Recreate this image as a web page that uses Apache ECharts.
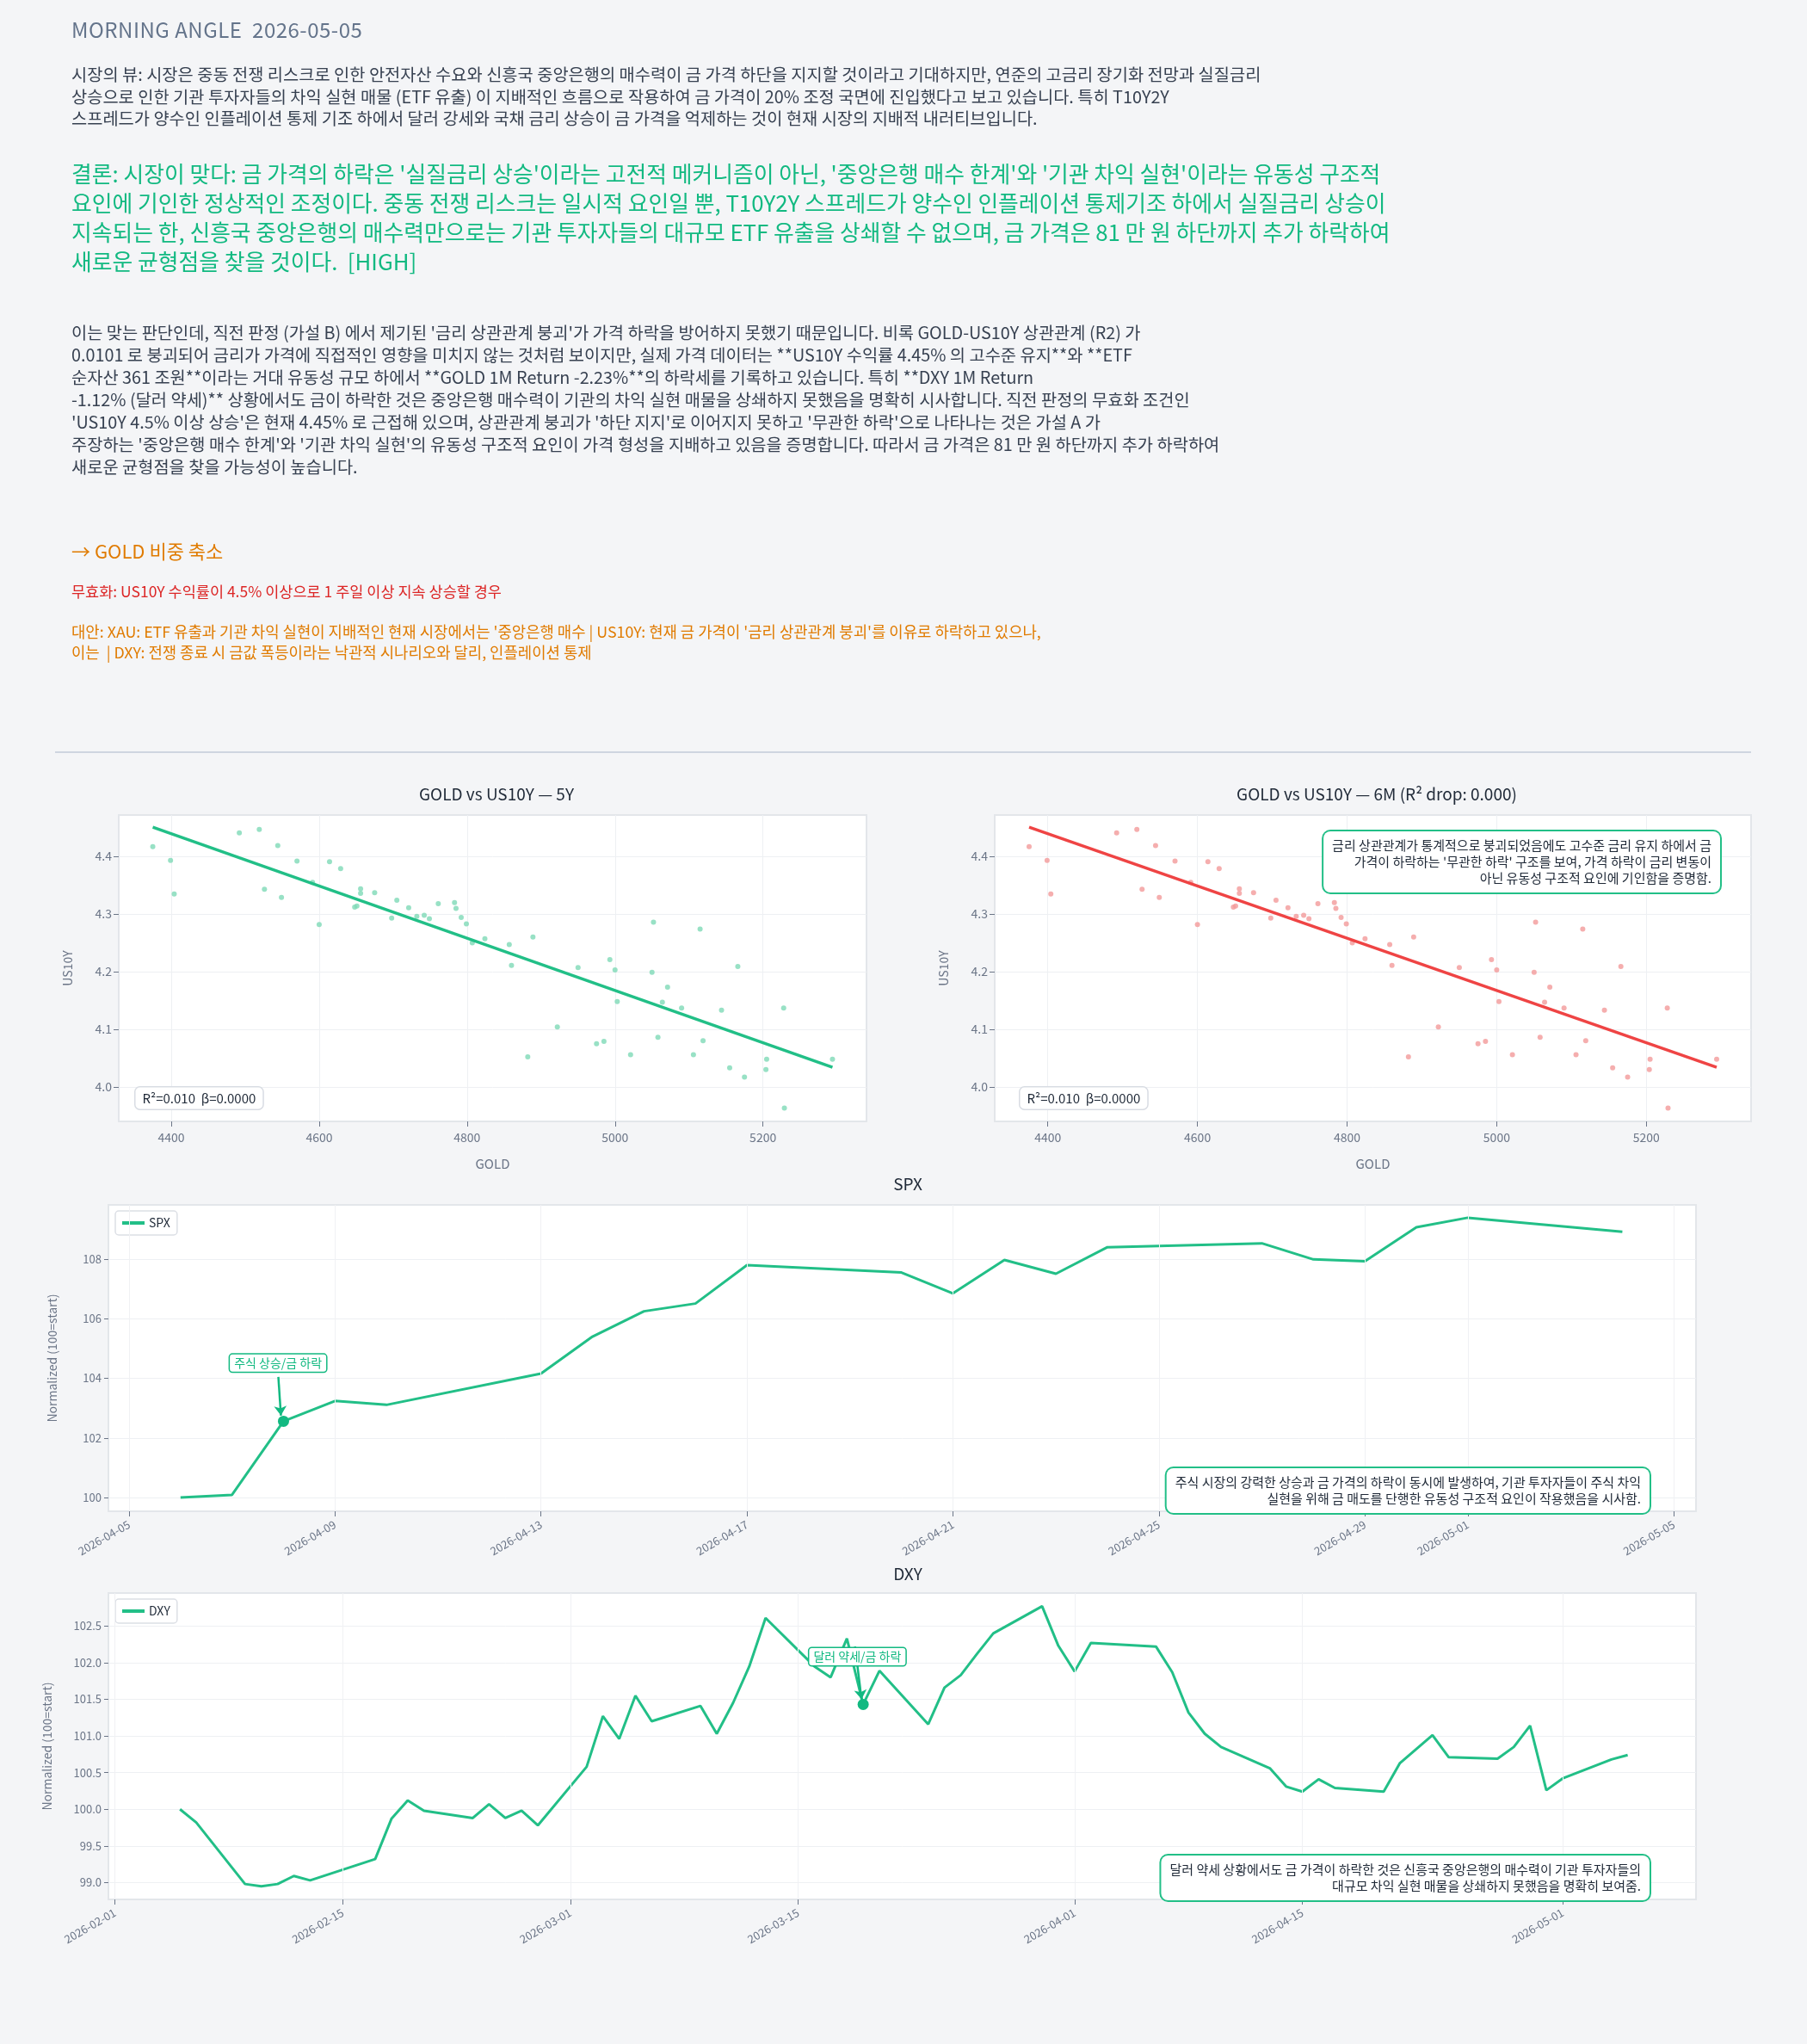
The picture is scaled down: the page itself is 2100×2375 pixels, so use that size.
<!DOCTYPE html>
<html>
<head>
<meta charset="utf-8">
<script src="https://cdn.jsdelivr.net/npm/echarts@6/dist/echarts.min.js"></script>
<style>
  body { margin: 0; background: #f4f5f7; font-family: "Noto Sans CJK KR", "Noto Sans", sans-serif; }
  #page { position: relative; width: 2100px; height: 2375px; }
  .t { position: absolute; left: 83px; white-space: nowrap; }
  #head { top: 16px; font-size: 24px; color: #64748b; letter-spacing: 0.5px; }
  #p1 { top: 73px; font-size: 19.8px; line-height: 25.5px; color: #374151; }
  #concl { top: 184px; font-size: 25.8px; line-height: 34px; color: #12b981; }
  #p3 { top: 373px; font-size: 19.8px; line-height: 26px; color: #374151; }
  #act { top: 623px; font-size: 22px; color: #e07b00; }
  #inv { top: 674px; font-size: 17.5px; color: #dc2626; }
  #alt { top: 721px; font-size: 17.8px; line-height: 24px; color: #e07b00; }
  #rule { position: absolute; left: 64px; top: 873px; width: 1971px; height: 2px; background: #cfd5e0; }
  #chart { position: absolute; left: 0; top: 0; width: 2100px; height: 2375px; }
</style>
</head>
<body>
<div id="page">
  <div id="chart"></div>
  <div class="t" id="head">MORNING ANGLE&nbsp;&nbsp;2026-05-05</div>
  <div class="t" id="p1">시장의 뷰: 시장은 중동 전쟁 리스크로 인한 안전자산 수요와 신흥국 중앙은행의 매수력이 금 가격 하단을 지지할 것이라고 기대하지만, 연준의 고금리 장기화 전망과 실질금리<br>상승으로 인한 기관 투자자들의 차익 실현 매물 (ETF 유출) 이 지배적인 흐름으로 작용하여 금 가격이 20% 조정 국면에 진입했다고 보고 있습니다. 특히 T10Y2Y<br>스프레드가 양수인 인플레이션 통제 기조 하에서 달러 강세와 국채 금리 상승이 금 가격을 억제하는 것이 현재 시장의 지배적 내러티브입니다.</div>
  <div class="t" id="concl">결론: 시장이 맞다: 금 가격의 하락은 '실질금리 상승'이라는 고전적 메커니즘이 아닌, '중앙은행 매수 한계'와 '기관 차익 실현'이라는 유동성 구조적<br>요인에 기인한 정상적인 조정이다. 중동 전쟁 리스크는 일시적 요인일 뿐, T10Y2Y 스프레드가 양수인 인플레이션 통제기조 하에서 실질금리 상승이<br>지속되는 한, 신흥국 중앙은행의 매수력만으로는 기관 투자자들의 대규모 ETF 유출을 상쇄할 수 없으며, 금 가격은 81 만 원 하단까지 추가 하락하여<br>새로운 균형점을 찾을 것이다.&nbsp;&nbsp;[HIGH]</div>
  <div class="t" id="p3">이는 맞는 판단인데, 직전 판정 (가설 B) 에서 제기된 '금리 상관관계 붕괴'가 가격 하락을 방어하지 못했기 때문입니다. 비록 GOLD-US10Y 상관관계 (R2) 가<br>0.0101 로 붕괴되어 금리가 가격에 직접적인 영향을 미치지 않는 것처럼 보이지만, 실제 가격 데이터는 **US10Y 수익률 4.45% 의 고수준 유지**와 **ETF<br>순자산 361 조원**이라는 거대 유동성 규모 하에서 **GOLD 1M Return -2.23%**의 하락세를 기록하고 있습니다. 특히 **DXY 1M Return<br>-1.12% (달러 약세)** 상황에서도 금이 하락한 것은 중앙은행 매수력이 기관의 차익 실현 매물을 상쇄하지 못했음을 명확히 시사합니다. 직전 판정의 무효화 조건인<br>'US10Y 4.5% 이상 상승'은 현재 4.45% 로 근접해 있으며, 상관관계 붕괴가 '하단 지지'로 이어지지 못하고 '무관한 하락'으로 나타나는 것은 가설 A 가<br>주장하는 '중앙은행 매수 한계'와 '기관 차익 실현'의 유동성 구조적 요인이 가격 형성을 지배하고 있음을 증명합니다. 따라서 금 가격은 81 만 원 하단까지 추가 하락하여<br>새로운 균형점을 찾을 가능성이 높습니다.</div>
  <div class="t" id="act">→ GOLD 비중 축소</div>
  <div class="t" id="inv">무효화: US10Y 수익률이 4.5% 이상으로 1 주일 이상 지속 상승할 경우</div>
  <div class="t" id="alt">대안: XAU: ETF 유출과 기관 차익 실현이 지배적인 현재 시장에서는 '중앙은행 매수 | US10Y: 현재 금 가격이 '금리 상관관계 붕괴'를 이유로 하락하고 있으나,<br>이는&nbsp;&nbsp;| DXY: 전쟁 종료 시 금값 폭등이라는 낙관적 시나리오와 달리, 인플레이션 통제</div>
  <div id="rule"></div>
</div>
<script>
// ---- data ----
var goldX = [4375, 4399, 4404, 4492, 4519, 4526, 4544, 4549, 4570, 4591, 4600, 4614, 4629, 4648, 4651,
  4656, 4656, 4675, 4698, 4705, 4721, 4732, 4742, 4749, 4761, 4783, 4785, 4792, 4799, 4807, 4824,
  4857, 4860, 4889, 4882, 4922, 4950, 4975, 4985, 4993, 5000, 5003, 5021, 5050, 5052, 5058, 5064,
  5071, 5090, 5106, 5115, 5119, 5144, 5155, 5166, 5175, 5204, 5205, 5228, 5229, 5294];
var us10yY = [4.417, 4.393, 4.335, 4.441, 4.447, 4.343, 4.419, 4.329, 4.392, 4.355, 4.282, 4.391, 4.379, 4.312, 4.314,
  4.344, 4.336, 4.337, 4.293, 4.324, 4.311, 4.296, 4.298, 4.292, 4.318, 4.320, 4.310, 4.294, 4.283, 4.250, 4.257,
  4.247, 4.211, 4.260, 4.052, 4.104, 4.207, 4.075, 4.079, 4.221, 4.203, 4.148, 4.056, 4.199, 4.286, 4.086, 4.147,
  4.173, 4.137, 4.056, 4.274, 4.080, 4.133, 4.033, 4.209, 4.017, 4.030, 4.048, 4.137, 3.963, 4.048];
var fitLine = [[4375, 4.451], [5294, 4.034]];
var gTicks = [4400, 4600, 4800, 5000, 5200];
var yTicks = [4.0, 4.1, 4.2, 4.3, 4.4];

var spxDates = ['2026-04-06', '2026-04-07', '2026-04-08', '2026-04-09', '2026-04-10', '2026-04-13', '2026-04-14',
  '2026-04-15', '2026-04-16', '2026-04-17', '2026-04-20', '2026-04-21', '2026-04-22', '2026-04-23', '2026-04-24',
  '2026-04-27', '2026-04-28', '2026-04-29', '2026-04-30', '2026-05-01', '2026-05-04'];
var spxVals = [100.0, 100.09, 102.56, 103.24, 103.11, 104.16, 105.40, 106.25, 106.51, 107.80, 107.55, 106.85,
  107.97, 107.51, 108.40, 108.53, 107.99, 107.93, 109.07, 109.39, 108.92];
var spxTicks = ['2026-04-05', '2026-04-09', '2026-04-13', '2026-04-17', '2026-04-21', '2026-04-25', '2026-04-29', '2026-05-01', '2026-05-05'];

var dxyDates = ['2026-02-05', '2026-02-06', '2026-02-09', '2026-02-10', '2026-02-11', '2026-02-12', '2026-02-13',
  '2026-02-17', '2026-02-18', '2026-02-19', '2026-02-20', '2026-02-23', '2026-02-24', '2026-02-25', '2026-02-26',
  '2026-02-27', '2026-03-02', '2026-03-03', '2026-03-04', '2026-03-05', '2026-03-06', '2026-03-09', '2026-03-10',
  '2026-03-11', '2026-03-12', '2026-03-13', '2026-03-16', '2026-03-17', '2026-03-18', '2026-03-19', '2026-03-20',
  '2026-03-23', '2026-03-24', '2026-03-25', '2026-03-26', '2026-03-27', '2026-03-30', '2026-03-31', '2026-04-01',
  '2026-04-02', '2026-04-06', '2026-04-07', '2026-04-08', '2026-04-09', '2026-04-10', '2026-04-13', '2026-04-14',
  '2026-04-15', '2026-04-16', '2026-04-17', '2026-04-20', '2026-04-21', '2026-04-22', '2026-04-23', '2026-04-24',
  '2026-04-27', '2026-04-28', '2026-04-29', '2026-04-30', '2026-05-01', '2026-05-04', '2026-05-05'];
var dxyVals = [100.0, 99.82, 98.98, 98.95, 98.98, 99.09, 99.03,
  99.32, 99.87, 100.12, 99.98, 99.88, 100.07, 99.88, 99.98,
  99.78, 100.58, 101.27, 100.96, 101.55, 101.20, 101.41, 101.03,
  101.45, 101.95, 102.61, 101.95, 101.80, 102.33, 101.43, 101.89,
  101.16, 101.66, 101.83, 102.12, 102.40, 102.77, 102.23, 101.88,
  102.27, 102.22, 101.87, 101.32, 101.03, 100.85, 100.56, 100.31,
  100.24, 100.41, 100.29, 100.24, 100.63, 100.82, 101.01, 100.71,
  100.69, 100.85, 101.14, 100.26, 100.42, 100.68, 100.74];
var dxyTicks = ['2026-02-01', '2026-02-15', '2026-03-01', '2026-03-15', '2026-04-01', '2026-04-15', '2026-05-01'];

// ---- helpers ----
function ts(d) { return new Date(d + 'T00:00:00').getTime(); }
var DAY = 86400000;
var GREEN = '#22bf87';
var FONT = '"Noto Sans CJK KR", "Noto Sans", sans-serif';
var axisGray = '#6b7587';

function pairs(xs, ys, f) { return xs.map(function (x, i) { return [f ? f(x) : x, ys[i]]; }); }
function fmtDate(v) {
  var d = new Date(v);
  return d.getFullYear() + '-' + String(d.getMonth() + 1).padStart(2, '0') + '-' + String(d.getDate()).padStart(2, '0');
}

var scatterData = pairs(goldX, us10yY);
var spxData = pairs(spxDates, spxVals, ts);
var dxyData = pairs(dxyDates, dxyVals, ts);

var chart = echarts.init(document.getElementById('chart'));

function valAxisX(idx) {
  return {
    type: 'value', gridIndex: idx, min: 4329, max: 5340,
    name: 'GOLD', nameLocation: 'middle', nameGap: 42,
    nameTextStyle: { color: axisGray, fontSize: 15, fontFamily: FONT },
    axisLine: { show: false },
    axisTick: { show: true, customValues: gTicks, length: 6, lineStyle: { color: axisGray } },
    axisLabel: { customValues: gTicks, color: axisGray, fontSize: 14, fontFamily: FONT, margin: 12,
      formatter: function (v) { return String(v); } },
    splitLine: { show: true, lineStyle: { color: '#eef0f3' } }
  };
}
function valAxisY(idx) {
  return {
    type: 'value', gridIndex: idx, min: 3.94, max: 4.472,
    name: 'US10Y', nameLocation: 'middle', nameGap: 52,
    nameTextStyle: { color: axisGray, fontSize: 14, fontFamily: FONT },
    axisLine: { show: false },
    axisTick: { show: true, customValues: yTicks, length: 6, lineStyle: { color: axisGray } },
    axisLabel: { customValues: yTicks, color: axisGray, fontSize: 14, fontFamily: FONT,
      formatter: function (v) { return v.toFixed(1); } },
    splitLine: { show: true, lineStyle: { color: '#eef0f3' } }
  };
}
function timeX(idx, ticks, min, max) {
  var tv = ticks.map(ts);
  return {
    type: 'value', gridIndex: idx, min: min, max: max,
    axisLine: { show: false },
    axisTick: { show: true, customValues: tv, length: 6, lineStyle: { color: axisGray } },
    axisLabel: { customValues: tv, rotate: 30, color: axisGray, fontSize: 13, fontFamily: FONT, margin: 14,
      formatter: fmtDate },
    splitLine: { show: false }
  };
}
function normY(idx, min, max, ticks, dec) {
  return {
    type: 'value', gridIndex: idx, min: min, max: max,
    name: 'Normalized (100=start)', nameLocation: 'middle', nameGap: dec ? 64 : 58,
    nameTextStyle: { color: axisGray, fontSize: 14, fontFamily: FONT },
    axisLine: { show: false },
    axisTick: { show: true, customValues: ticks, length: 5, lineStyle: { color: axisGray } },
    axisLabel: { customValues: ticks, color: axisGray, fontSize: 13, fontFamily: FONT,
      formatter: function (v) { return v.toFixed(dec); } },
    splitLine: { show: true, lineStyle: { color: '#eef0f3' } }
  };
}
function boxText(left, top, text) {
  return {
    type: 'text', left: left, top: top, z: 100,
    style: { text: text, fill: '#1f2937', font: '15px ' + FONT, backgroundColor: '#fff',
      borderColor: '#d8dce3', borderWidth: 1.5, borderRadius: 5, padding: [5, 8] }
  };
}
// right-aligned note box; x is the right edge of the text
function noteBox(x, y, text) {
  return {
    type: 'text', x: x, y: y, z: 100,
    style: { text: text, fill: '#1f2937', font: '15px ' + FONT, align: 'right', verticalAlign: 'top', lineHeight: 19,
      backgroundColor: '#fff', borderColor: GREEN, borderWidth: 2, borderRadius: 8, padding: [7, 10] }
  };
}
// vertical grid lines at the date ticks
function dateLines(ticks, yMin, yMax) {
  return {
    silent: true, symbol: 'none', label: { show: false },
    lineStyle: { color: '#f0f1f4', width: 1, type: 'solid' },
    data: ticks.map(function (d) { return [{ coord: [ts(d), yMin] }, { coord: [ts(d), yMax] }]; })
  };
}

var titleStyle = { color: '#1f2937', fontSize: 19, fontWeight: 'normal', fontFamily: FONT };
var gridStyle = { show: true, backgroundColor: '#fff', borderColor: '#e3e6ea', borderWidth: 2 };
var legendStyle = { itemWidth: 26, itemHeight: 4, textStyle: { fontSize: 14, color: '#1f2937', fontFamily: FONT },
  backgroundColor: '#fff', borderColor: '#dcdfe5', borderWidth: 1.5, borderRadius: 4, padding: [7, 8], icon: 'rect' };

chart.setOption({
  animation: false,
  title: [
    { text: 'GOLD vs US10Y — 5Y', left: 572, top: 908, textAlign: 'center', textStyle: titleStyle },
    { text: 'GOLD vs US10Y — 6M (R² drop: 0.000)', left: 1595, top: 908, textAlign: 'center', textStyle: titleStyle },
    { text: 'SPX', left: 1050, top: 1361, textAlign: 'center', textStyle: titleStyle },
    { text: 'DXY', left: 1050, top: 1814, textAlign: 'center', textStyle: titleStyle }
  ],
  grid: [
    Object.assign({ left: 138, top: 947, width: 869, height: 356 }, gridStyle),
    Object.assign({ left: 1156, top: 947, width: 879, height: 356 }, gridStyle),
    Object.assign({ left: 126, top: 1400, width: 1845, height: 356 }, gridStyle),
    Object.assign({ left: 126, top: 1851, width: 1845, height: 356 }, gridStyle)
  ],
  xAxis: [
    valAxisX(0), valAxisX(1),
    timeX(2, spxTicks, ts('2026-04-05') - 0.4 * DAY, ts('2026-05-05') + 0.43 * DAY),
    timeX(3, dxyTicks, ts('2026-02-01') - 0.4 * DAY, ts('2026-02-01') + 97.2 * DAY)
  ],
  yAxis: [
    valAxisY(0), valAxisY(1),
    normY(2, 99.54, 109.82, [100, 102, 104, 106, 108], 0),
    normY(3, 98.77, 102.95, [99, 99.5, 100, 100.5, 101, 101.5, 102, 102.5], 1)
  ],
  legend: [
    Object.assign({ data: ['SPX'], left: 134, top: 1407 }, legendStyle),
    Object.assign({ data: ['DXY'], left: 134, top: 1858 }, legendStyle)
  ],
  series: [
    { type: 'scatter', xAxisIndex: 0, yAxisIndex: 0, data: scatterData, symbolSize: 6,
      itemStyle: { color: '#7edab7' } },
    { type: 'line', xAxisIndex: 0, yAxisIndex: 0, data: fitLine, symbol: 'none',
      lineStyle: { color: GREEN, width: 3.5 } },
    { type: 'scatter', xAxisIndex: 1, yAxisIndex: 1, data: scatterData, symbolSize: 6,
      itemStyle: { color: '#f39a9a' } },
    { type: 'line', xAxisIndex: 1, yAxisIndex: 1, data: fitLine, symbol: 'none',
      lineStyle: { color: '#ef4444', width: 3.5 } },
    { type: 'line', xAxisIndex: 2, yAxisIndex: 2, data: [], markLine: dateLines(spxTicks, 99.54, 109.82) },
    { type: 'line', xAxisIndex: 3, yAxisIndex: 3, data: [], markLine: dateLines(dxyTicks, 98.77, 102.95) },
    { name: 'SPX', type: 'line', xAxisIndex: 2, yAxisIndex: 2, data: spxData, symbol: 'none',
      itemStyle: { color: GREEN }, lineStyle: { color: GREEN, width: 3 },
      markPoint: { symbol: 'circle', symbolSize: 13, itemStyle: { color: '#12b981' }, label: { show: false },
        data: [{ coord: spxData[2] }] },
      markLine: { silent: true, symbol: ['none', 'arrow'], symbolSize: 11,
        lineStyle: { color: '#12b981', width: 2.5, type: 'solid' },
        label: { show: true, position: 'start', formatter: '주식 상승/금 하락', color: '#12b981', fontSize: 14, fontFamily: FONT,
          backgroundColor: '#fff', borderColor: '#12b981', borderWidth: 1.5, borderRadius: 3, padding: [3, 5], distance: 6 },
        data: [[{ coord: [spxData[2][0] - 0.1 * DAY, 104.05] }, { coord: [spxData[2][0] - 0.05 * DAY, 102.75] }]] } },
    { name: 'DXY', type: 'line', xAxisIndex: 3, yAxisIndex: 3, data: dxyData, symbol: 'none',
      itemStyle: { color: GREEN }, lineStyle: { color: GREEN, width: 3 },
      markPoint: { symbol: 'circle', symbolSize: 13, itemStyle: { color: '#12b981' }, label: { show: false },
        data: [{ coord: dxyData[29] }] },
      markLine: { silent: true, symbol: ['none', 'arrow'], symbolSize: 11,
        lineStyle: { color: '#12b981', width: 2.5, type: 'solid' },
        label: { show: true, position: 'start', formatter: '달러 약세/금 하락', color: '#12b981', fontSize: 14, fontFamily: FONT,
          backgroundColor: '#fff', borderColor: '#12b981', borderWidth: 1.5, borderRadius: 3, padding: [3, 5], distance: -22 },
        data: [[{ coord: [dxyData[29][0] - 0.5 * DAY, 102.22] }, { coord: [dxyData[29][0] - 0.1 * DAY, 101.5] }]] } }
  ],
  graphic: [
    boxText(156, 1262, 'R²=0.010  β=0.0000'),
    boxText(1184, 1262, 'R²=0.010  β=0.0000'),
    noteBox(1999, 966, "금리 상관관계가 통계적으로 붕괴되었음에도 고수준 금리 유지 하에서 금\n가격이 하락하는 '무관한 하락' 구조를 보여, 가격 하락이 금리 변동이\n아닌 유동성 구조적 요인에 기인함을 증명함."),
    noteBox(1917, 1706, '주식 시장의 강력한 상승과 금 가격의 하락이 동시에 발생하여, 기관 투자자들이 주식 차익\n실현을 위해 금 매도를 단행한 유동성 구조적 요인이 작용했음을 시사함.'),
    noteBox(1917, 2156, '달러 약세 상황에서도 금 가격이 하락한 것은 신흥국 중앙은행의 매수력이 기관 투자자들의\n대규모 차익 실현 매물을 상쇄하지 못했음을 명확히 보여줌.')
  ]
});
</script>
</body>
</html>
